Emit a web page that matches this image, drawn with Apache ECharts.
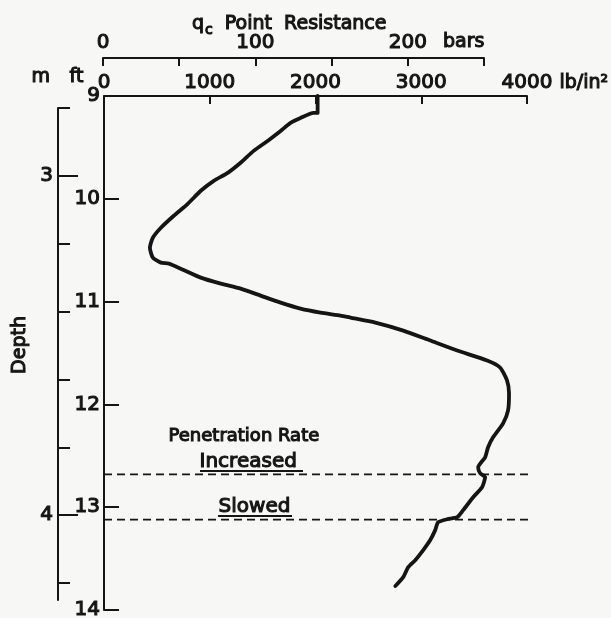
<!DOCTYPE html>
<html>
<head>
<meta charset="utf-8">
<script src="https://cdn.jsdelivr.net/npm/echarts@6/dist/echarts.min.js"></script>
<style>
  html, body { margin: 0; padding: 0; background: #f7f7f5; }
  #chart { width: 611px; height: 618px; }
</style>
</head>
<body>
<div id="chart"></div>
<script>
// cone penetration log
const depthFt = [9.0, 9.165, 9.165, 9.214, 9.262, 9.34, 9.437, 9.534, 9.65, 9.748, 9.825, 9.922,
  10.049, 10.165, 10.282, 10.379, 10.476, 10.573, 10.621, 10.631, 10.68, 10.767, 10.825, 10.874,
  10.942, 11.01, 11.068, 11.107, 11.136, 11.155, 11.204, 11.282, 11.379, 11.476, 11.573, 11.641,
  11.767, 11.893, 12.058, 12.184, 12.32, 12.417, 12.515, 12.612, 12.67, 12.709, 12.806, 12.903,
  13.029, 13.097, 13.117, 13.146, 13.223, 13.32, 13.417, 13.515, 13.583, 13.68, 13.767];
const resistancePsi = [2020, 2020, 1981, 1858, 1764, 1670, 1547, 1415, 1292, 1170, 1038, 915,
  792, 660, 538, 462, 434, 462, 538, 613, 726, 915, 1104, 1292,
  1481, 1670, 1858, 2047, 2236, 2330, 2566, 2830, 3085, 3340, 3623, 3745,
  3811, 3830, 3821, 3774, 3679, 3632, 3604, 3538, 3557, 3604, 3575, 3491,
  3396, 3340, 3245, 3160, 3132, 3085, 3019, 2943, 2877, 2830, 2755];

// depths where the penetration rate changed
const eventDepthFt = [12.68, 13.12];
const eventEndPsi = 4070;

const barLabels = [0, 100, 200];
const metreLabels = [3, 4];
const metreMinorTicks = [2.8, 3.2, 3.4, 3.6, 3.8, 4.2];

const ink = '#151515';
const font = 'DejaVu Sans';
// axis / title text (echarts text style), a thin outline thickens the strokes like the scan
const txt = { color: ink, fontFamily: font, fontWeight: 'normal', textBorderColor: ink, textBorderWidth: 1.1 };
// graphic text (zrender style)
const gtxt = (text, size) => ({ text: text, fill: ink, fontFamily: font, fontSize: size, stroke: ink, lineWidth: 1.1 });

const chart = echarts.init(document.getElementById('chart'));

const eventSeries = eventDepthFt.map(d => ({
  type: 'line',
  xAxisIndex: 0,
  yAxisIndex: 0,
  data: [[0, d], [eventEndPsi, d]],
  showSymbol: false,
  clip: false,
  silent: true,
  lineStyle: { color: ink, width: 1.8, type: [8, 5] }
}));

chart.setOption({
  backgroundColor: '#f7f7f5',
  animation: false,
  title: {
    text: '{q|q}{c|c}{t|  Point  Resistance}',
    left: 187,
    top: 6,
    textStyle: {
      rich: {
        q: Object.assign({ fontSize: 19 }, txt),
        c: Object.assign({ fontSize: 14, padding: [12, 0, 0, 1] }, txt),
        t: Object.assign({ fontSize: 19 }, txt)
      }
    }
  },
  grid: [
    { left: 104, top: 96, width: 423, height: 514, outerBoundsMode: 'none' },
    { left: 103, top: 58, width: 381, height: 20, outerBoundsMode: 'none' },
    { left: 58, top: 108, width: 20, height: 492, outerBoundsMode: 'none' }
  ],
  xAxis: [
    {
      gridIndex: 0, type: 'value', position: 'top',
      min: 0, max: 4000, interval: 1000,
      name: 'lb/in²', nameLocation: 'end', nameGap: 22,
      nameTextStyle: Object.assign({ fontSize: 19, verticalAlign: 'bottom', padding: [0, 0, 3, 0] }, txt),
      axisLine: { onZero: false, lineStyle: { color: ink, width: 2 } },
      axisTick: { inside: true, length: 8, lineStyle: { color: ink, width: 2 } },
      axisLabel: Object.assign({ fontSize: 20, margin: 3, formatter: v => String(v) }, txt),
      splitLine: { show: false }
    },
    {
      gridIndex: 1, type: 'value', position: 'top',
      min: 0, max: 250, interval: 50,
      name: 'bars', nameLocation: 'end', nameGap: -41,
      nameTextStyle: Object.assign({ fontSize: 19, verticalAlign: 'bottom', padding: [0, 0, 6, 0] }, txt),
      axisLine: { onZero: false, lineStyle: { color: ink, width: 2 } },
      axisTick: { inside: true, length: 8, lineStyle: { color: ink, width: 2 } },
      axisLabel: Object.assign({ fontSize: 20, margin: 5, customValues: barLabels, formatter: v => String(v) }, txt),
      splitLine: { show: false }
    },
    { gridIndex: 2, type: 'value', show: false }
  ],
  yAxis: [
    {
      gridIndex: 0, type: 'value', position: 'left', inverse: true,
      min: 9, max: 14, interval: 1,
      axisLine: { onZero: false, lineStyle: { color: ink, width: 2 } },
      axisTick: { inside: true, length: 15, lineStyle: { color: ink, width: 2 } },
      axisLabel: Object.assign({ fontSize: 20, margin: 4 }, txt),
      splitLine: { show: false }
    },
    { gridIndex: 1, type: 'value', show: false },
    {
      gridIndex: 2, type: 'value', position: 'left', inverse: true,
      min: 2.8, max: 4.25,
      axisLine: { onZero: false, lineStyle: { color: ink, width: 2 } },
      axisTick: { inside: true, length: 12, customValues: metreMinorTicks, lineStyle: { color: ink, width: 2 } },
      axisLabel: { show: false },
      splitLine: { show: false }
    },
    {
      gridIndex: 2, type: 'value', position: 'left', inverse: true,
      min: 2.8, max: 4.25,
      name: 'Depth', nameLocation: 'middle', nameRotate: 90, nameGap: 28,
      nameTextStyle: Object.assign({ fontSize: 19, padding: [0, 0, 0, 18] }, txt),
      axisLine: { show: false, onZero: false },
      axisTick: { inside: true, length: 20, customValues: metreLabels, lineStyle: { color: ink, width: 2 } },
      axisLabel: Object.assign({ fontSize: 20, margin: 5, customValues: metreLabels }, txt),
      splitLine: { show: false }
    }
  ],
  graphic: [
    { type: 'text', left: 31, top: 67, style: gtxt('m', 19) },
    { type: 'text', left: 69, top: 67, style: gtxt('ft', 19) },
    { type: 'text', left: 168, top: 427, style: gtxt('Penetration Rate', 18) },
    { type: 'text', left: 199, top: 451, style: gtxt('Increased', 20) },
    { type: 'text', left: 218, top: 496, style: gtxt('Slowed', 20) },
    { type: 'line', shape: { x1: 200, y1: 471, x2: 303, y2: 471 }, style: { stroke: ink, lineWidth: 2 } },
    { type: 'line', shape: { x1: 218, y1: 516, x2: 292, y2: 516 }, style: { stroke: ink, lineWidth: 2 } }
  ],
  series: [
    {
      name: 'Point resistance',
      type: 'line',
      xAxisIndex: 0,
      yAxisIndex: 0,
      data: resistancePsi.map((v, i) => [v, depthFt[i]]),
      showSymbol: false,
      smooth: 0.2,
      clip: false,
      lineStyle: { color: ink, width: 3.8, cap: 'round', join: 'round' }
    }
  ].concat(eventSeries)
});
</script>
</body>
</html>
